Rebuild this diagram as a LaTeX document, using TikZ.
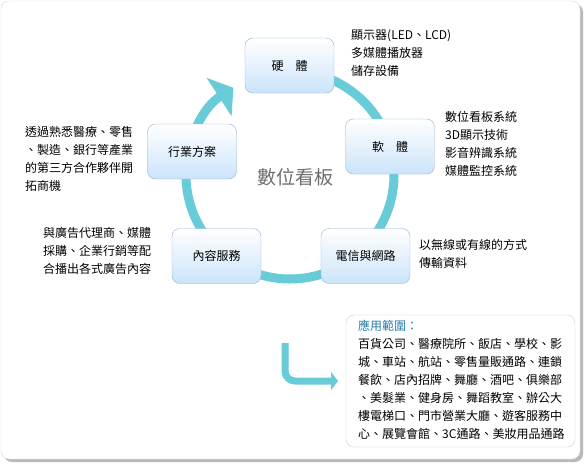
\documentclass[tikz,border=0pt]{standalone}
\usepackage{fontspec}
\setmainfont{Noto Sans CJK TC}
\usetikzlibrary{arrows.meta}
\definecolor{ringcyan}{RGB}{104,203,216}
\definecolor{boxline}{RGB}{150,178,210}
\definecolor{boxblue}{RGB}{203,228,250}
\definecolor{titleblue}{RGB}{40,125,170}
\definecolor{hubgray}{RGB}{110,110,110}
\begin{document}
\begin{tikzpicture}
    [x=1pt,y=1pt,
     stage/.style={draw=boxline,rounded corners=8pt,top color=white,bottom color=boxblue,
       minimum width=89pt,minimum height=55pt,font=\fontsize{12}{14}\selectfont},
     note/.style={anchor=north west,inner sep=0pt,align=left,font=\fontsize{12}{18}\selectfont},
     ring/.style={draw=ringcyan,line width=9pt,-{Triangle[width=45pt,length=17pt]}},
     bendarrow/.style={draw=ringcyan,line width=7pt,rounded corners=10pt,-{Triangle[width=18pt,length=7pt]}}]
    \useasboundingbox (0,0) rectangle (585,-464);
    \fill [gray!55,rounded corners=8pt] (4,-4) rectangle (583,-462);
    \draw [gray!30,fill=white,rounded corners=8pt] (1,-1) rectangle (580,-459);
    \coordinate (hub) at (290,-175);
    \draw [ring] ([shift={(95:104)}]hub) arc [start angle=95,end angle=-237,radius=104];
    \node [text=hubgray,font=\fontsize{19}{21}\selectfont] (title) at (295,-177) {數位看板};
    \node [stage] (hw) at (289.5,-65.5) {硬\quad 體};
    \node [stage] (sw) at (390,-146.5) {軟\quad 體};
    \node [stage] (net) at (365.5,-256) {電信與網路};
    \node [stage] (cont) at (216.5,-256) {內容服務};
    \node [stage] (biz) at (192,-151.5) {行業方案};
    \node [note] (hwnote) at (351,-29) {顯示器(LED、LCD)\\多媒體播放器\\儲存設備};
    \node [note] (swnote) at (445,-111) {數位看板系統\\3D顯示技術\\影音辨識系統\\媒體監控系統};
    \node [note] (biznote) at (25,-126) {透過熟悉醫療、零售\\、製造、銀行等產業\\的第三方合作夥伴開\\拓商機};
    \node [note] (contnote) at (43,-227) {與廣告代理商、媒體\\採購、企業行銷等配\\合播出各式廣告內容};
    \node [note] (netnote) at (419,-239) {以無線或有線的方式\\傳輸資料};
    \draw [gray!40,rounded corners=8pt] (346,-315) rectangle (575,-447);
    \node [note] (scope) at (358,-320) {\textcolor{titleblue}{應用範圍：}\\
      百貨公司、醫療院所、飯店、學校、影\\城、車站、航站、零售量販通路、連鎖\\
      餐飲、店內招牌、舞廳、酒吧、俱樂部\\、美髮業、健身房、舞蹈教室、辦公大\\
      樓電梯口、門市營業大廳、遊客服務中\\心、展覽會館、3C通路、美妝用品通路};
    \coordinate (bendtop) at (285,-343);
    \coordinate (bendend) at (338,-381);
    \draw [bendarrow] (bendtop) |- (bendend);
\end{tikzpicture}
\end{document}
